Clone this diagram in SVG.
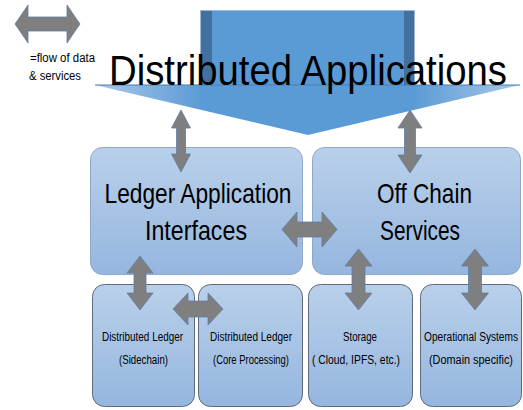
<svg xmlns="http://www.w3.org/2000/svg" width="523" height="410" viewBox="0 0 523 410">
  <defs>
    <linearGradient id="boxGrad" x1="0" y1="0" x2="0" y2="1">
      <stop offset="0" stop-color="#b9d0ea"/>
      <stop offset="1" stop-color="#95b6df"/>
    </linearGradient>
    <linearGradient id="headGrad" x1="0" y1="0" x2="1" y2="0">
      <stop offset="0" stop-color="#a9c9ea"/>
      <stop offset="0.25" stop-color="#5b9bd5"/>
      <stop offset="0.75" stop-color="#5b9bd5"/>
      <stop offset="1" stop-color="#a9c9ea"/>
    </linearGradient>
    <style>
      .box { fill: url(#boxGrad); stroke: #8fa8c8; stroke-width: 1; }
      .box3 { fill: url(#boxGrad); stroke: #5f6b7a; stroke-width: 1; }
      .arr { fill: #7f7f7f; stroke: #5f7ea6; stroke-width: 0.8; }
      .t { font-family: "Liberation Sans", Arial, sans-serif; fill: #000; text-anchor: middle; }
      .big { font-size: 43px; }
      .mid { font-size: 28px; }
      .sm { font-size: 12px; }
      .leg { font-family: "Liberation Sans", Arial, sans-serif; font-size: 12px; fill: #000; }
    </style>
  </defs>

  <rect width="523" height="410" fill="#ffffff"/>

  <g id="legend">
    <polygon class="arr" points="15,24 28,5 28,17 67,17 67,5 80,24 67,43 67,31 28,31 28,43"/>
    <text class="leg" x="30" y="62" textLength="65" lengthAdjust="spacingAndGlyphs">=flow of data</text>
    <text class="leg" x="29" y="80" textLength="52" lengthAdjust="spacingAndGlyphs">&amp; services</text>
  </g>

  <g id="distributed-applications">
    <rect x="200.5" y="10.5" width="214" height="76" fill="#5b9bd5" stroke="#9db9d6" stroke-width="1"/>
    <rect x="201" y="11" width="11" height="75" fill="#41719c"/>
    <rect x="404" y="11" width="10" height="75" fill="#41719c"/>
    <polygon points="95,85 520,85 308,135" fill="url(#headGrad)"/>
    <line x1="95" y1="85" x2="520" y2="85" stroke="#4a7fb3" stroke-width="1.2"/>
    <text class="t big" x="308" y="85" textLength="398" lengthAdjust="spacingAndGlyphs">Distributed Applications</text>
  </g>

  <g id="ledger-application-interfaces">
    <rect class="box" x="90.5" y="147.5" width="212" height="127" rx="12"/>
    <text class="t mid" x="198" y="203" textLength="187" lengthAdjust="spacingAndGlyphs">Ledger Application</text>
    <text class="t mid" x="196" y="240" textLength="102" lengthAdjust="spacingAndGlyphs">Interfaces</text>
  </g>

  <g id="off-chain-services">
    <rect class="box" x="312.5" y="147.5" width="208" height="127" rx="12"/>
    <text class="t mid" x="424.5" y="203" textLength="95" lengthAdjust="spacingAndGlyphs">Off Chain</text>
    <text class="t mid" x="420" y="240" textLength="80" lengthAdjust="spacingAndGlyphs">Services</text>
  </g>

  <g id="dl-sidechain">
    <rect class="box3" x="92.5" y="284.5" width="102" height="122" rx="12"/>
    <text class="t sm" x="142.5" y="341" textLength="81" lengthAdjust="spacingAndGlyphs">Distributed Ledger</text>
    <text class="t sm" x="143.5" y="364" textLength="49" lengthAdjust="spacingAndGlyphs">(Sidechain)</text>
  </g>

  <g id="dl-core">
    <rect class="box3" x="198.5" y="284.5" width="104" height="122" rx="12"/>
    <text class="t sm" x="251" y="341" textLength="82" lengthAdjust="spacingAndGlyphs">Distributed Ledger</text>
    <text class="t sm" x="251" y="364" textLength="76" lengthAdjust="spacingAndGlyphs">(Core Processing)</text>
  </g>

  <g id="storage">
    <rect class="box3" x="308.5" y="284.5" width="104" height="122" rx="12"/>
    <text class="t sm" x="360" y="341" textLength="34" lengthAdjust="spacingAndGlyphs">Storage</text>
    <text class="t sm" x="356" y="364" textLength="88" lengthAdjust="spacingAndGlyphs">( Cloud, IPFS, etc.)</text>
  </g>

  <g id="operational-systems">
    <rect class="box3" x="420.5" y="284.5" width="101" height="122" rx="12"/>
    <text class="t sm" x="471" y="341" textLength="94" lengthAdjust="spacingAndGlyphs">Operational Systems</text>
    <text class="t sm" x="471" y="364" textLength="84" lengthAdjust="spacingAndGlyphs">(Domain specific)</text>
  </g>

  <g id="connectors">
    <polygon class="arr" points="181,110 190.5,128 185.5,128 185.5,154 190.5,154 181,172 171.5,154 176.5,154 176.5,128 171.5,128"/>
    <polygon class="arr" points="410,110 422,128 415.5,128 415.5,155 422,155 410,173 398,155 404.5,155 404.5,128 398,128"/>
    <polygon class="arr" points="282,229.5 297,212 297,222 322,222 322,212 337,229.5 322,247 322,237 297,237 297,247"/>
    <polygon class="arr" points="140,256 153,273 146,273 146,293 153,293 140,310 127,293 134,293 134,273 127,273"/>
    <polygon class="arr" points="358.5,249 372,266 365,266 365,293 372,293 358.5,310 345,293 352,293 352,266 345,266"/>
    <polygon class="arr" points="475,249 488.5,266 481.5,266 481.5,293 488.5,293 475,310 461.5,293 468.5,293 468.5,266 461.5,266"/>
    <polygon class="arr" points="173,309 188,293 188,301 208,301 208,293 223,309 208,325 208,317 188,317 188,325"/>
  </g>
</svg>
